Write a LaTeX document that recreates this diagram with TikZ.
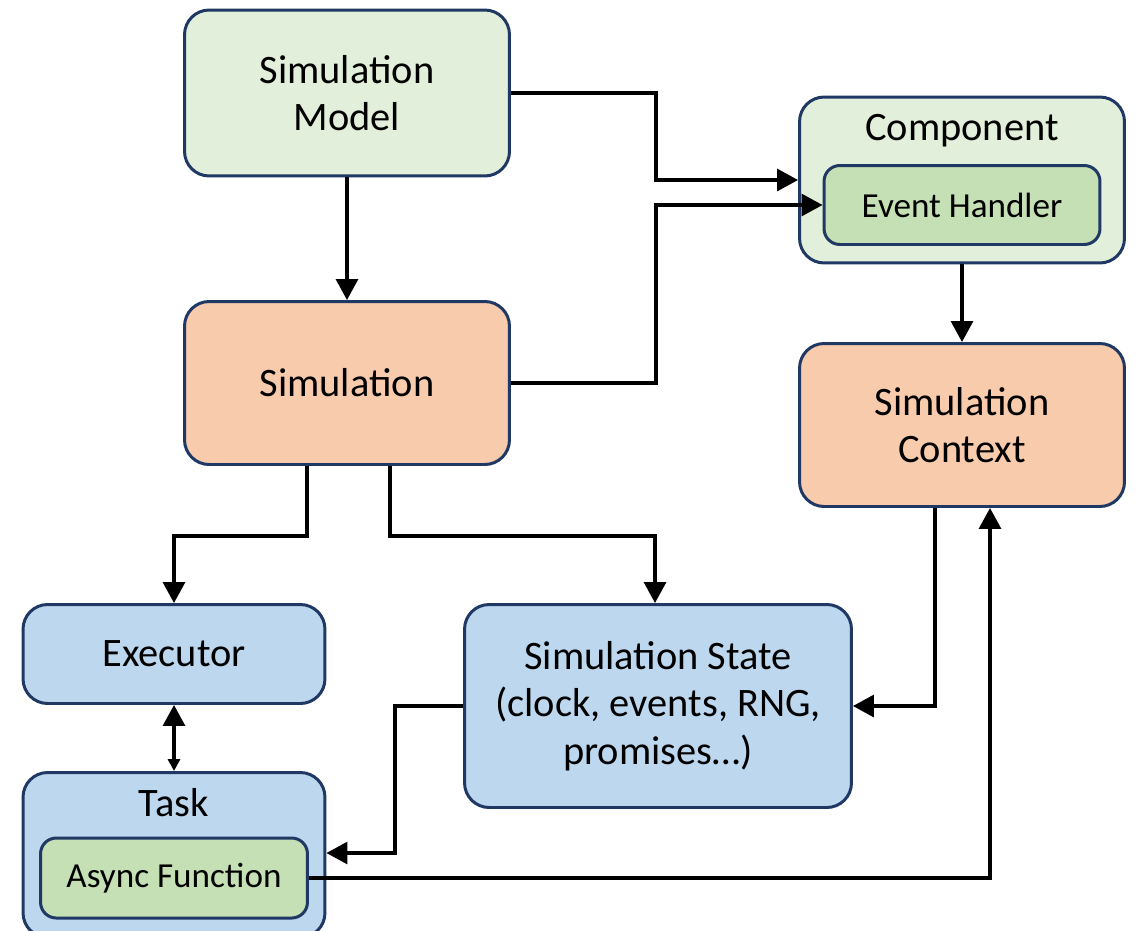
\documentclass[tikz,border=0pt]{standalone}
\usepackage{fontspec}
\setmainfont{Carlito}
\usepackage{xcolor}
\usepackage{tikz}
\usetikzlibrary{arrows.meta,positioning,calc}
\tikzset{
  blk/.style={draw=edge, line width=1.7pt, rounded corners=14pt, align=center, font=\fontsize{23}{27}\selectfont, inner sep=0pt, fill=#1},
  blk/.default=white,
  sub/.style={blk=#1, rounded corners=9pt, font=\fontsize{20}{24}\selectfont},
  ttl/.style={font=\fontsize{23}{27}\selectfont, inner sep=0pt},
  arr/.style={-{Triangle[length=4.2mm,width=4.4mm]}, line width=1.8pt},
}
\definecolor{edge}{HTML}{1F3864}
\definecolor{mdl}{HTML}{E2EFDA}
\definecolor{hdl}{HTML}{C5E0B4}
\definecolor{run}{HTML}{F8CBAD}
\definecolor{rt}{HTML}{BDD7EE}

\begin{document}
\begin{tikzpicture}[x=0.02cm, y=-0.02cm]
  \useasboundingbox (0,0) rectangle (1138,930);

  \node[blk=mdl, minimum width=6.5cm, minimum height=3.32cm] (model) at (347,93) {Simulation\\Model};
  \node[blk=run, minimum width=6.5cm, minimum height=3.26cm] (sim) at (347,383) {Simulation};

  \node[blk=mdl, minimum width=6.5cm, minimum height=3.32cm] (comp) at (962,180) {};
  \node[ttl] (compt) at (962,131) {Component};
  \node[sub=hdl, minimum width=5.52cm, minimum height=1.58cm] (hdlr) at (962,205) {Event Handler};
  \node[blk=run, minimum width=6.5cm, minimum height=3.26cm] (ctx) at (962,425) {Simulation\\Context};

  \node[blk=rt, minimum width=6.04cm, minimum height=1.98cm] (exec) at (174,654) {Executor};
  \node[blk=rt, minimum width=7.74cm, minimum height=4.06cm] (state) at (658,706) {Simulation State\\(clock, events, RNG,\\promises…)};

  \node[blk=rt, minimum width=6.04cm, minimum height=3.3cm] (task) at (174,855) {};
  \node[ttl] (taskt) at (174,803) {Task};
  \node[sub=hdl, minimum width=5.34cm, minimum height=1.6cm] (afn) at (174,878) {Async Function};

  % wiring
  \draw[arr] (model) -- (sim);
  \draw[arr] (model.east) -- ++(145,0) |- (comp.west);
  \draw[arr] (sim.east) -- ++(145,0) |- (hdlr.west);
  \draw[arr] (comp) -- (ctx);
  \draw[arr] ($(sim.south)+(-40,0)$) -- ++(0,70) -| (exec.north);
  \draw[arr] ($(sim.south)+(43,0)$) -- ++(0,70) -| ($(state.north)+(-3,0)$);
  \draw[arr] ($(ctx.south)+(-27,0)$) |- (state.east);
  \draw[arr] (state.west) -- ++(-68,0) |- ($(task.east)+(0,-2)$);
  \draw[arr] (afn.east) -| ($(ctx.south)+(28,0)$);
  \draw[{Triangle[length=4.2mm,width=4.4mm]}-{Triangle[length=2.4mm,width=2.4mm]}, line width=1.8pt] (exec) -- (task);
\end{tikzpicture}
\end{document}
